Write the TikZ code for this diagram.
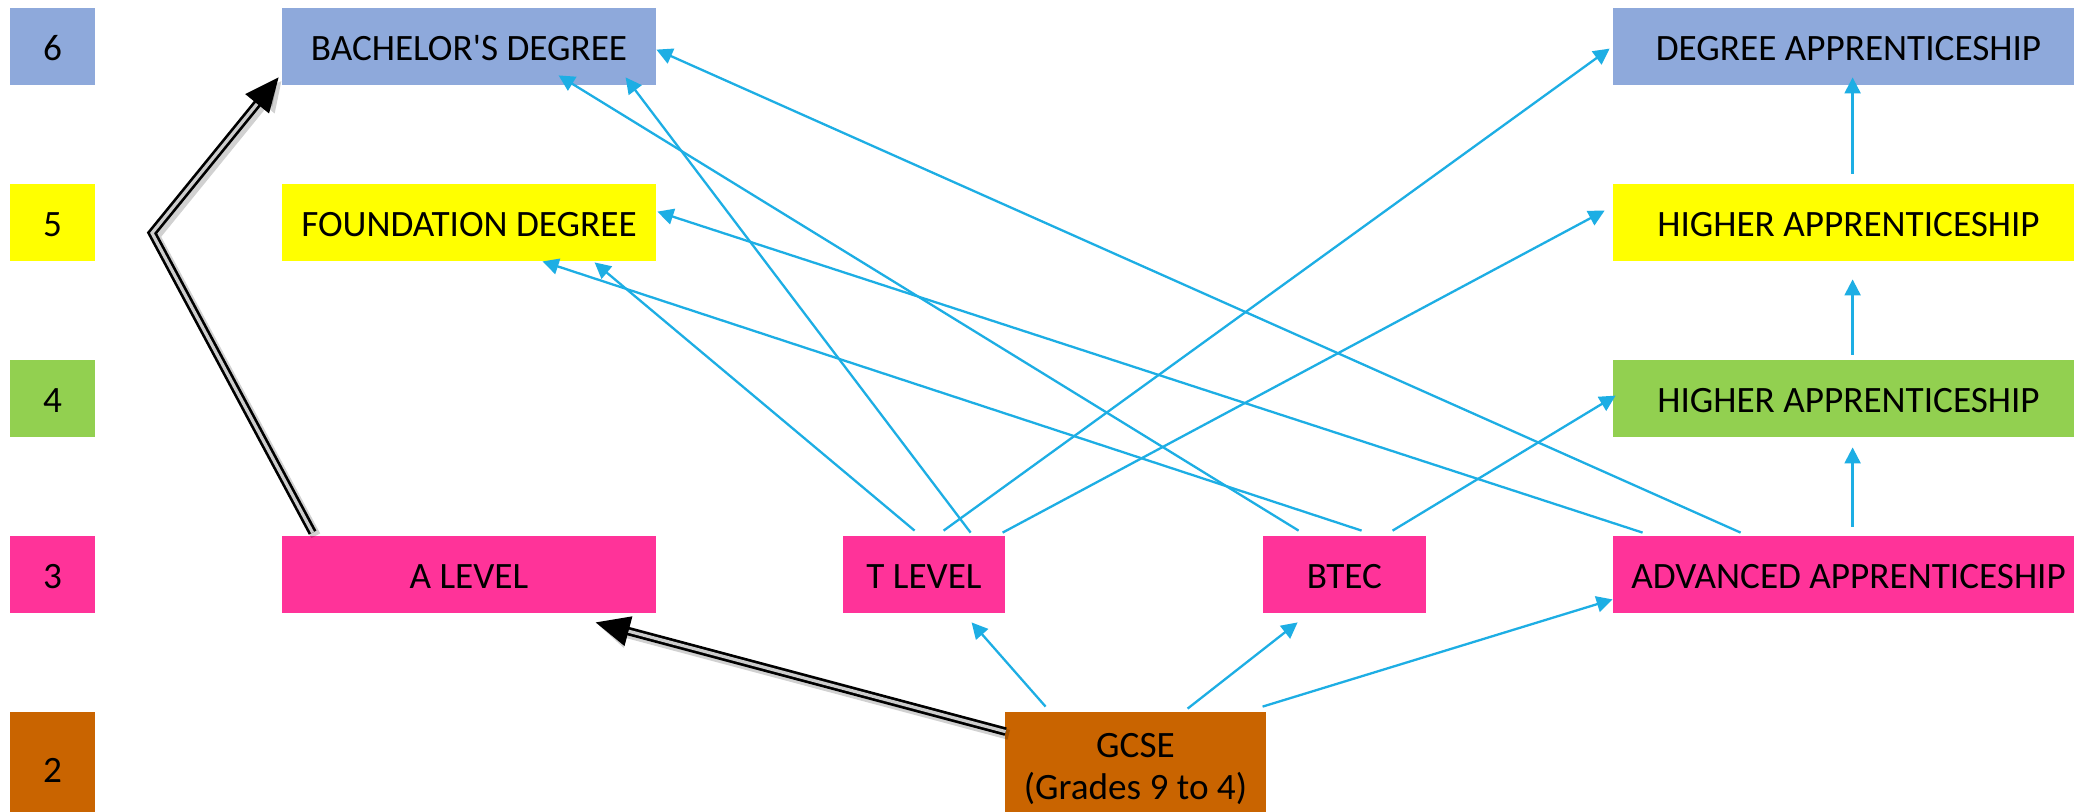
\documentclass[tikz,border=0pt]{standalone}
\usepackage{fontspec}
\setmainfont{Carlito}
\usetikzlibrary{arrows.meta,calc}
\definecolor{lvblue}{RGB}{142,169,219}
\definecolor{lvyellow}{RGB}{255,255,0}
\definecolor{lvgreen}{RGB}{146,208,80}
\definecolor{lvpink}{RGB}{255,51,153}
\definecolor{lvorange}{RGB}{201,100,0}
\definecolor{arrowblue}{RGB}{29,174,228}
\begin{document}
\begin{tikzpicture}[x=0.5pt,y=-0.5pt,
  box/.style={rectangle, inner sep=0pt, font=\fontsize{18.6}{21}\selectfont, align=center},
  one/.style={box, text height=13.8pt, text depth=0pt},
  lvl/.style={one, minimum width=42.5pt, minimum height=38.5pt},
  colbox/.style={one, minimum width=187pt, minimum height=38.5pt},
  rightbox/.style={one, minimum width=235.5pt, minimum height=38.5pt},
  midbox/.style={one, minimum width=81pt, minimum height=38.5pt},
  link/.style={draw=arrowblue, line width=1.15pt, -{Triangle[length=8pt,width=8pt]}},
  big/.style={draw=black, line width=1.35pt, double=gray!40, double distance=1.6pt, line join=miter, -{Triangle[length=17pt,width=15pt]}},
  bigshadow/.style={draw=black, opacity=0.18, line width=5pt, line join=miter, -{Triangle[length=15pt,width=14pt]}, transform canvas={shift={(1.6pt,-1.6pt)}}}]
\clip (0,0) rectangle (2074,811);
\fill[white] (0,0) rectangle (2074,811);

% level column
\node[lvl, fill=lvblue]   (l6) at (52.5,46.5)  {6};
\node[lvl, fill=lvyellow] (l5) at (52.5,222.5) {5};
\node[lvl, fill=lvgreen]  (l4) at (52.5,398.5) {4};
\node[lvl, fill=lvpink]   (l3) at (52.5,574.5) {3};
\node[one, minimum width=42.5pt, minimum height=57pt, fill=lvorange] (l2) at (52.5,769) {2};

% left column
\node[colbox, fill=lvblue]   (bach)   at (469,46.5)  {BACHELOR\textquotesingle S DEGREE};
\node[colbox, fill=lvyellow] (found)  at (469,222.5) {FOUNDATION DEGREE};
\node[colbox, fill=lvpink]   (alevel) at (469,574.5) {A LEVEL};

% middle
\node[midbox, fill=lvpink] (tlevel) at (924,574.5)    {T LEVEL};
\node[midbox, minimum width=81.5pt, fill=lvpink] (btec) at (1344.5,574.5) {BTEC};
\node[box, minimum width=130.5pt, minimum height=57pt, fill=lvorange] (gcse) at (1135.5,769) {GCSE\\(Grades 9 to 4)};

% right column
\node[rightbox, fill=lvblue]   (dapp) at (1848.5,46.5)  {DEGREE APPRENTICESHIP};
\node[rightbox, fill=lvyellow] (hap5) at (1848.5,222.5) {HIGHER APPRENTICESHIP};
\node[rightbox, fill=lvgreen]  (hap4) at (1848.5,398.5) {HIGHER APPRENTICESHIP};
\node[rightbox, fill=lvpink]   (adv)  at (1848.5,574.5) {ADVANCED APPRENTICESHIP};

\coordinate (bend) at (152,233);

% T LEVEL links
\draw[link] ($(tlevel.north west)+(72,-5)$)  -- ($(found.south west)+(313,1)$);
\draw[link] ($(tlevel.north west)+(101,-5)$) -- ($(dapp.north west)+(-3,41)$);
\draw[link] ($(tlevel.north west)+(128,-3)$) -- ($(bach.south west)+(344,-8)$);
\draw[link] ($(tlevel.north west)+(160,-3)$) -- ($(hap5.north west)+(-8,27)$);

% BTEC links
\draw[link] ($(btec.north west)+(36,-5)$)  -- ($(bach.south west)+(277,-10)$);
\draw[link] ($(btec.north west)+(99,-5)$)  -- ($(found.south west)+(261,0)$);
\draw[link] ($(btec.north west)+(130,-5)$) -- ($(hap4.north west)+(3,36)$);

% ADVANCED links
\draw[link] ($(adv.north west)+(30,-3)$)  -- ($(found.north east)+(1,28)$);
\draw[link] ($(adv.north west)+(128,-3)$) -- ($(bach.north east)+(0,42)$);
\draw[link] ($(adv.north west)+(240,-9)$) -- ($(hap4.south west)+(240,10)$);
\draw[link] ($(hap4.north west)+(240,-5)$) -- ($(hap5.south west)+(240,18)$);
\draw[link] ($(hap5.north west)+(240,-10)$) -- ($(dapp.south west)+(240,-8)$);

% GCSE links
\draw[link] ($(gcse.north west)+(41,-5)$)  -- ($(tlevel.south west)+(129,9)$);
\draw[link] ($(gcse.north west)+(183,-3)$) -- ($(btec.south west)+(35,9)$);
\draw[link] ($(gcse.north west)+(258,-5)$) -- ($(adv.south west)+(0,-14)$);

% black double arrows (soft shadow first)
\draw[bigshadow] ($(gcse.north west)+(1,20)$) -- ($(alevel.south west)+(314,9)$);
\draw[bigshadow] ($(alevel.north west)+(31,-3)$) -- (bend) -- ($(bach.south west)+(-3,-8)$);
\draw[big] ($(gcse.north west)+(1,20)$) -- ($(alevel.south west)+(314,9)$);
\draw[big] ($(alevel.north west)+(31,-3)$) -- (bend) -- ($(bach.south west)+(-3,-8)$);
\end{tikzpicture}
\end{document}
